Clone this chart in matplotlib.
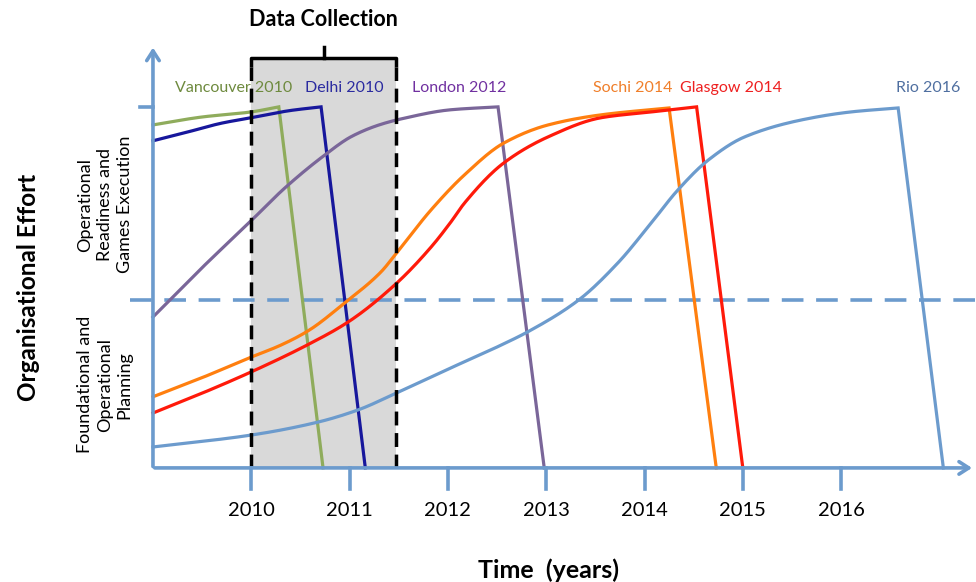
import matplotlib
matplotlib.use("Agg")
import matplotlib.pyplot as plt
import numpy as np

plt.rcParams['font.family'] = ['Lato', 'DejaVu Sans']

# values (x = year, y = share of peak effort)
vancouver_x = [2009.0, 2009.5, 2010.0, 2010.28, 2010.73]
vancouver_y = [0.95, 0.972, 0.986, 1.0, 0.0]
delhi_x = [2009.0, 2009.32, 2009.7, 2010.0, 2010.4, 2010.71, 2011.16]
delhi_y = [0.906, 0.928, 0.955, 0.97, 0.99, 1.0, 0.0]
london_x = [2009.0, 2009.49, 2010.0, 2010.34, 2010.74, 2011.02, 2011.3, 2011.53, 2012.03, 2012.51,
            2012.98]
london_y = [0.418, 0.552, 0.685, 0.775, 0.865, 0.918, 0.95, 0.967, 0.992, 1.0, 0.0]
sochi_x = [2009.0, 2009.5, 2010.0, 2010.3, 2010.58, 2010.95, 2011.32, 2011.48, 2011.83, 2012.17,
           2012.57, 2013.02, 2013.56, 2014.25, 2014.73]
sochi_y = [0.197, 0.25, 0.307, 0.34, 0.38, 0.457, 0.543, 0.596, 0.715, 0.812,
           0.90, 0.95, 0.978, 0.997, 0.0]
glasgow_x = [2009.0, 2009.5, 2010.0, 2010.58, 2010.99, 2011.48, 2011.83, 2012.03, 2012.17, 2012.57,
             2013.02, 2013.56, 2014.07, 2014.53, 2015.0]
glasgow_y = [0.152, 0.207, 0.266, 0.342, 0.405, 0.512, 0.612, 0.681, 0.734, 0.845,
             0.917, 0.97, 0.986, 1.0, 0.0]
rio_x = [2009.0, 2010.0, 2010.68, 2011.09, 2011.48, 2012.03, 2012.54, 2012.82, 2013.33, 2013.73,
         2014.07, 2014.34, 2014.65, 2015.02, 2015.6, 2016.1, 2016.58, 2017.04]
rio_y = [0.058, 0.091, 0.127, 0.161, 0.208, 0.277, 0.34, 0.378, 0.465, 0.568,
         0.679, 0.77, 0.853, 0.917, 0.964, 0.986, 0.997, 0.0]

names = ['Vancouver 2010', 'Delhi 2010', 'London 2012', 'Sochi 2014', 'Glasgow 2014', 'Rio 2016']
label_x = [2009.82, 2010.95, 2012.12, 2013.88, 2014.88, 2016.89]
line_colors = ['#8fac5c', '#17179c', '#7a6699', '#ff7f0f', '#ff1a0a', '#6c9bcd']
text_colors = ['#6e8a3e', '#2b2ba0', '#7030a0', '#f07f2a', '#ee2020', '#4f6fa0']

years = [2010, 2011, 2012, 2013, 2014, 2015, 2016]
collect_start, collect_end = 2010.0, 2011.47
phase_split = 0.465

axc = '#6c9bcd'


def smooth(x, y, n=300):
    # monotone cubic through the read points, only for drawing
    x = np.asarray(x, float)
    y = np.asarray(y, float)
    h = np.diff(x)
    d = np.diff(y) / h
    m = np.zeros_like(y)
    m[0], m[-1] = d[0], d[-1]
    for k in range(1, len(x) - 1):
        if d[k - 1] * d[k] > 0:
            w1 = 2 * h[k] + h[k - 1]
            w2 = h[k] + 2 * h[k - 1]
            m[k] = (w1 + w2) / (w1 / d[k - 1] + w2 / d[k])
    xs = np.linspace(x[0], x[-1], n)
    i = np.clip(np.searchsorted(x, xs) - 1, 0, len(x) - 2)
    t = (xs - x[i]) / h[i]
    h00 = 2 * t**3 - 3 * t**2 + 1
    h10 = t**3 - 2 * t**2 + t
    h01 = -2 * t**3 + 3 * t**2
    h11 = t**3 - t**2
    ys = h00 * y[i] + h10 * h[i] * m[i] + h01 * y[i + 1] + h11 * h[i] * m[i + 1]
    return xs, ys


fig = plt.figure(figsize=(9.76, 5.82), dpi=100)
ax = fig.add_axes([0, 0, 1, 1])
ax.set_xlim(2007.444, 2017.372)
ax.set_ylim(-0.316, 1.296)
ax.axis('off')

# data collection window
ax.fill_between([collect_start, collect_end], 0, 1.13, color='#d9d9d9', zorder=1, lw=0)

series = [(vancouver_x, vancouver_y), (delhi_x, delhi_y), (london_x, london_y),
          (sochi_x, sochi_y), (glasgow_x, glasgow_y), (rio_x, rio_y)]
for (xs, ys), c in zip(series, line_colors):
    sx, sy = smooth(xs[:-1], ys[:-1])
    sx = np.append(sx, xs[-1])
    sy = np.append(sy, ys[-1])
    ax.plot(sx, sy, color=c, lw=2.3, zorder=3, solid_joinstyle='miter')

for nm, lx, tc in zip(names, label_x, text_colors):
    ax.text(lx, 1.053, nm, color=tc, fontsize=11.5, ha='center', va='center')

# dashed edges and bracket
for xv in (collect_start, collect_end):
    ax.plot([xv, xv], [0, 1.11], color='black', lw=2.5, ls=(0, (4, 2.2)), zorder=4)
ax.plot([collect_start, collect_start, collect_end, collect_end], [1.11, 1.136, 1.136, 1.11],
        color='black', lw=2.5, solid_joinstyle='round', solid_capstyle='butt', zorder=4)
mid = (collect_start + collect_end) / 2
ax.plot([mid, mid], [1.136, 1.166], color='black', lw=2.5, zorder=4)
ax.text(mid, 1.241, 'Data Collection', fontsize=15.5, fontweight='bold', ha='center', va='center')

# axes with arrows
ax.annotate('', xy=(2009.0, 1.172), xytext=(2009.0, -0.004),
            arrowprops=dict(arrowstyle='->,head_length=0.7,head_width=0.45', color=axc, lw=2.6),
            zorder=5)
ax.annotate('', xy=(2017.36, 0.0), xytext=(2008.99, 0.0),
            arrowprops=dict(arrowstyle='->,head_length=0.7,head_width=0.45', color=axc, lw=2.6),
            zorder=5)
ax.plot([2008.87, 2009.0], [1.0, 1.0], color=axc, lw=2.6, zorder=5)
ax.plot([2008.77, 2017.37], [phase_split, phase_split], color=axc, lw=2.6,
        ls=(0, (6, 3.5)), zorder=2)

for yr in years:
    ax.plot([yr, yr], [0, -0.058], color=axc, lw=2.6, zorder=5)
    ax.text(yr, -0.118, str(yr), fontsize=14.5, ha='center', va='center')

ax.text(2013.02, -0.283, 'Time  (years)', fontsize=18, fontweight='bold', ha='center', va='center')
ax.text(2007.73, 0.50, 'Organisational Effort', fontsize=17.5, fontweight='bold',
        rotation=90, ha='center', va='center')
ax.text(2008.51, 0.729, 'Operational\nReadiness and\nGames Execution', fontsize=13,
        rotation=90, ha='center', va='center', multialignment='center', linespacing=1.3)
ax.text(2008.51, 0.23, 'Foundational and\nOperational\nPlanning', fontsize=13,
        rotation=90, ha='center', va='center', multialignment='center', linespacing=1.3)

fig.savefig('out.png', dpi=100)
